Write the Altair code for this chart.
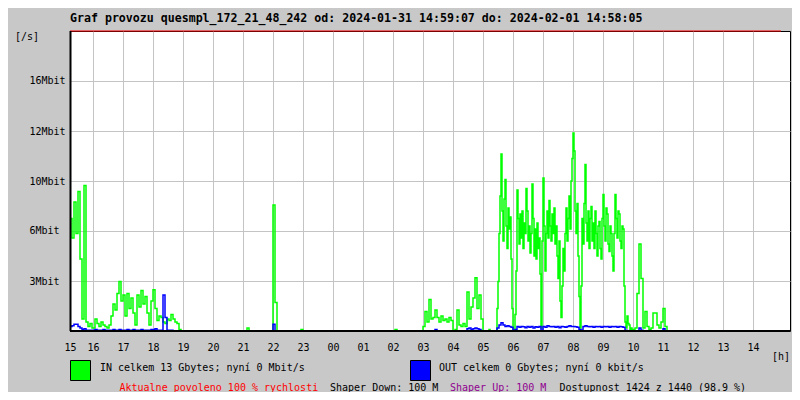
import json
import altair as alt
import pandas as pd

TITLE = "Graf provozu quesmpl_172_21_48_242 od: 2024-01-31 14:59:07 do: 2024-02-01 14:58:05"
IN_TEXT = "IN celkem 13 Gbytes; nyní 0 Mbit/s"
OUT_TEXT = "OUT celkem 0 Gbytes; nyní 0 kbit/s"
INFO_RED = "Aktualne povoleno 100 % rychlosti"
INFO_DOWN = "Shaper Down: 100 M"
INFO_UP = "Shaper Up: 100 M"
INFO_AVAIL = "Dostupnost 1424 z 1440 (98.9 %)"

HOUR_LABELS = ["15", "16", "17", "18", "19", "20", "21", "22", "23", "00", "01", "02",
               "03", "04", "05", "06", "07", "08", "09", "10", "11", "12", "13", "14"]
Y_TICKS = [3.333, 6.667, 10.0, 13.333, 16.667]
Y_LABELS = ["3Mbit", "6Mbit", "10Mbit", "12Mbit", "16Mbit"]

FIRST_MIN = 14      # first sample 15:14 (minutes after 15:00)
Y_MAX = 20.0        # Mbit at top of plot
X_END = 1454        # minutes at right edge

ZERO = [0, 0, 0, 0, 0, 0, 0, 0, 0, 0, 0, 0, 0, 0, 0]

# IN traffic, Mbit/s, one list per hour (15 values = 4-min samples, 30 values = 2-min samples)
IN_15 = [7.5, 6.2, 8.6, 6.5, 9.3, 4.8, 0.8, 9.7, 0.6, 0.3, 0.5, 0.2]
IN_16 = [0.2, 0.8, 0.5, 0.3, 0.6, 0.4, 0.3, 0.2, 0.4, 1.0, 1.8, 1.4, 2.5, 3.3, 2.0]
IN_17 = [2.4, 1.0, 2.5, 1.5, 2.2, 1.2, 0.4, 2.4, 1.6, 2.7, 1.8, 2.3, 1.2, 0.4, 2.0]
IN_18 = [2.75, 1.5, 0.7, 1.0, 0.9, 0.6, 0.5, 0.8, 0.7, 1.1, 0.8, 0.6, 0.5, 0.1, 0.0]
IN_19 = ZERO
IN_20 = ZERO
IN_21 = [0, 0, 0.2, 0, 0, 0, 0, 0, 0, 0, 0, 0, 0, 0, 0]
IN_22 = [8.4, 1.9, 0, 0, 0, 0, 0, 0, 0, 0, 0, 0, 0, 0, 0.1]
IN_23 = ZERO
IN_00 = ZERO
IN_01 = ZERO
IN_02 = [0, 0.1, 0, 0, 0, 0, 0, 0, 0, 0, 0, 0, 0, 0, 0]
IN_03 = [0.3, 1.3, 0.6, 2.1, 0.8, 0.9, 1.4, 0.9, 0.6, 1.0, 0.7, 0.8, 0.6, 0.9, 0.7]
IN_04 = [0.0, 0.1, 1.4, 0.4, 0.3, 0.5, 0.3, 2.6, 0.8, 1.6, 2.2, 3.55, 1.5, 2.4, 0.8]
IN_05 = [0, 0, 0, 0, 0, 0, 0.1, 0, 0, 0, 0, 0, 0, 0,
         1.5, 3.3, 6.5, 9.0, 11.8, 8.0, 6.0, 8.8, 10.1, 7.0, 5.5, 8.2, 6.8, 7.6, 4.8, 1.5]
IN_06 = [0.1, 0.0, 1.1, 4.0, 9.4, 7.5, 5.8, 7.8, 6.2, 8.0, 5.5, 7.2, 6.5, 9.5, 8.0,
         6.0, 7.0, 5.2, 6.5, 9.8, 7.5, 5.0, 6.8, 4.8, 7.2, 5.5, 6.2, 3.8, 0.2, 6.0]
IN_07 = [10.2, 7.0, 4.0, 6.5, 8.0, 6.2, 8.7, 7.0, 6.0, 7.8, 6.5, 8.2, 5.8, 7.0, 5.0,
         3.5, 6.0, 2.0, 0.9, 3.0, 5.5, 4.0, 6.5, 8.2, 6.0, 7.5, 9.0, 6.8, 10.0, 11.5]
IN_08 = [13.2, 12.0, 8.0, 6.5, 8.5, 5.0, 2.3, 0.2, 3.0, 7.5, 5.8, 8.5, 11.1, 7.2, 6.0,
         8.0, 5.5, 7.5, 8.3, 6.0, 7.2, 5.5, 8.0, 6.5, 5.0, 7.0, 7.3, 5.5, 4.8, 7.5]
IN_09 = [9.1, 7.0, 6.0, 8.2, 7.8, 5.8, 5.3, 7.0, 6.5, 5.0, 4.0, 6.5, 9.1, 7.5, 6.2,
         8.0, 7.8, 6.0, 5.5, 7.0, 6.8, 3.0, 0.6, 0.2, 1.0, 0.5, 0.4, 0.1, 0.2, 0.0]
IN_10 = [0.1, 0.2, 2.5, 5.8, 3.5, 0.2, 1.3, 0.3, 0.1, 0.2, 1.2, 1.2, 0.4, 0.2, 0.6]
IN_11 = [1.5, 0.3, 0, 0, 0, 0, 0, 0, 0, 0, 0, 0, 0, 0, 0]
IN_12 = ZERO
IN_13 = ZERO
IN_14 = ZERO

# OUT traffic, Mbit/s
OUT_15 = [0.3, 0.35, 0.45, 0.45, 0.3, 0.2, 0.1, 0.15, 0.05, 0.05, 0.05, 0.05]
OUT_16 = [0.05, 0.1, 0.05, 0.05, 0.05, 0.1, 0.05, 0.05, 0.05, 0.05, 0.1, 0.05, 0.05, 0.1, 0.05]
OUT_17 = [0.05, 0.05, 0.1, 0.05, 0.05, 0.1, 0.05, 0.05, 0.05, 0.1, 0.05, 0.05, 0.05, 0.05, 0.1]
OUT_18 = [0.1, 0.15, 0.05, 0.05, 0.05, 2.4, 0.9, 0.05, 0.05, 0.05, 0, 0, 0, 0, 0]
OUT_19 = ZERO
OUT_20 = ZERO
OUT_21 = ZERO
OUT_22 = [0.45, 0, 0, 0, 0, 0, 0, 0, 0, 0, 0, 0, 0, 0, 0]
OUT_23 = ZERO
OUT_00 = ZERO
OUT_01 = ZERO
OUT_02 = ZERO
OUT_03 = [0, 0, 0, 0, 0, 0, 0.1, 0, 0, 0, 0, 0, 0, 0, 0]
OUT_04 = [0, 0, 0, 0, 0, 0, 0, 0.15, 0.2, 0.1, 0.15, 0.2, 0.15, 0.1, 0]
OUT_05 = [0, 0, 0, 0, 0, 0, 0, 0.2, 0.4, 0.55, 0.4, 0.3, 0.35, 0.3, 0.25]
OUT_06 = [0.05, 0.1, 0.3, 0.25, 0.3, 0.28, 0.22, 0.3, 0.25, 0.3, 0.2, 0.28, 0.25, 0.3, 0.05]
OUT_07 = [0.3, 0.25, 0.35, 0.3, 0.28, 0.3, 0.25, 0.3, 0.22, 0.3, 0.28, 0.25, 0.3, 0.35, 0.3]
OUT_08 = [0.3, 0.28, 0.25, 0.1, 0.05, 0.3, 0.35, 0.3, 0.28, 0.3, 0.25, 0.3, 0.28, 0.3, 0.25]
OUT_09 = [0.3, 0.28, 0.3, 0.25, 0.3, 0.28, 0.3, 0.25, 0.3, 0.28, 0.25, 0.05, 0, 0, 0]
OUT_10 = [0, 0, 0, 0.2, 0.05, 0, 0, 0, 0, 0, 0, 0, 0, 0, 0]
OUT_11 = [0.15, 0, 0, 0, 0, 0, 0, 0, 0, 0, 0, 0, 0, 0, 0]
OUT_12 = ZERO
OUT_13 = ZERO
OUT_14 = ZERO

IN_HOURS = [IN_15, IN_16, IN_17, IN_18, IN_19, IN_20, IN_21, IN_22, IN_23, IN_00, IN_01, IN_02,
            IN_03, IN_04, IN_05, IN_06, IN_07, IN_08, IN_09, IN_10, IN_11, IN_12, IN_13, IN_14]
OUT_HOURS = [OUT_15, OUT_16, OUT_17, OUT_18, OUT_19, OUT_20, OUT_21, OUT_22, OUT_23, OUT_00, OUT_01, OUT_02,
             OUT_03, OUT_04, OUT_05, OUT_06, OUT_07, OUT_08, OUT_09, OUT_10, OUT_11, OUT_12, OUT_13, OUT_14]


def to_frame(hours):
    rows = []
    for k, vals in enumerate(hours):
        if k == 0:
            start, step = FIRST_MIN, 4
        else:
            start, step = 60 * k, 60 // len(vals)
        for i, v in enumerate(vals):
            rows.append({"t": start + step * i, "v": v})
    return pd.DataFrame(rows)


in_df = to_frame(IN_HOURS)
out_df = to_frame(OUT_HOURS)

FONT = "DejaVu Sans Mono"
GRID = "#c4c4c4"

x_ticks = [FIRST_MIN] + [60 * k for k in range(1, 24)]
x_scale = alt.Scale(domain=[FIRST_MIN, X_END], nice=False, zero=False)
y_scale = alt.Scale(domain=[0, Y_MAX], nice=False)

x_axis = alt.Axis(values=x_ticks, labelExpr=json.dumps(HOUR_LABELS) + "[floor((datum.value + 1) / 60)]",
                  title=None, grid=True, gridColor=GRID, gridWidth=1, domain=False, ticks=False,
                  tickSize=0, labelFont=FONT, labelFontSize=10, labelColor="black",
                  labelPadding=19, labelBaseline="alphabetic", labelAngle=0, labelFlush=False,
                  labelOverlap=False)
y_axis = alt.Axis(values=Y_TICKS, labelExpr=json.dumps(Y_LABELS) + "[round(datum.value * 0.3) - 1]",
                  title=None, grid=True, gridColor=GRID, gridWidth=1, domain=False, ticks=False,
                  tickSize=0, labelFont=FONT, labelFontSize=10, labelColor="black",
                  labelPadding=41, labelAlign="left", labelBaseline="middle", labelOverlap=False)

in_line = alt.Chart(in_df).mark_line(interpolate="step-after", color="#00ff00", strokeWidth=1.5).encode(
    x=alt.X("t:Q", scale=x_scale, axis=x_axis, title=None),
    y=alt.Y("v:Q", scale=y_scale, axis=y_axis, title=None),
)
out_line = alt.Chart(out_df).mark_line(interpolate="step-after", color="#0000ff", strokeWidth=1.5).encode(
    x=alt.X("t:Q", scale=x_scale, axis=x_axis, title=None),
    y=alt.Y("v:Q", scale=y_scale, axis=y_axis, title=None),
)
red_line = alt.Chart(in_df).mark_rule(color="#ff0000", strokeWidth=1).encode(
    x=alt.X("min(t):Q", scale=x_scale, axis=x_axis, title=None),
    x2="max(t):Q",
    y=alt.value(0),
)

one = pd.DataFrame({"k": [0]})
left_rule = alt.Chart(one).mark_rule(color="black", strokeWidth=2).encode(
    x=alt.value(0.5), y=alt.value(0), y2=alt.value(300))
bottom_rule = alt.Chart(one).mark_rule(color="black", strokeWidth=2).encode(
    x=alt.value(0), x2=alt.value(720), y=alt.value(300))


def label(txt, x, y, color="black", size=10, weight="normal"):
    return alt.Chart(pd.DataFrame({"s": [txt]})).mark_text(
        font=FONT, fontSize=size, fontWeight=weight, color=color, align="left",
        baseline="alphabetic").encode(text="s:N", x=alt.value(x), y=alt.value(y))


def swatch(color, x):
    return alt.Chart(one).mark_rect(fill=color, stroke="black", strokeWidth=1).encode(
        x=alt.value(x), x2=alt.value(x + 20), y=alt.value(329.5), y2=alt.value(349.5))


layers = [
    in_line, out_line, red_line, left_rule, bottom_rule,
    label(TITLE, 0, -9, size=11.6, weight="bold"),
    label("[/s]", -55, 9),
    label("[h]", 702, 329),
    swatch("#00ff00", 0.5),
    label(IN_TEXT, 30, 340),
    swatch("#0000ff", 340.5),
    label(OUT_TEXT, 369, 340),
    label(INFO_RED, 49.5, 360, color="#ff0000"),
    label(INFO_DOWN, 260, 360),
    label(INFO_UP, 380, 360, color="#900090"),
    label(INFO_AVAIL, 489.5, 360),
]

chart = alt.layer(*layers).properties(
    width=720, height=300,
    padding={"left": 62, "top": 23, "right": 2, "bottom": 61},
    autosize=alt.AutoSizeParams(type="none"),
).configure(background="#c8c8c8").configure_view(fill="white", stroke="black", strokeWidth=1)

chart.save("out.html", embed_options={"renderer": "svg", "actions": False})
